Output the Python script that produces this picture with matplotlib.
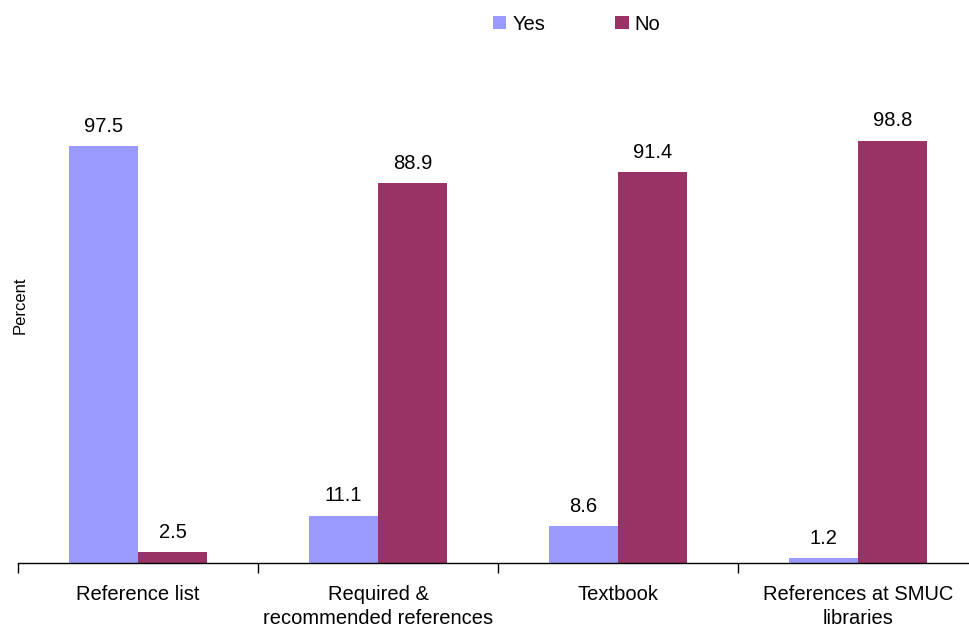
import numpy as np
import matplotlib.pyplot as plt

plt.rcParams['font.family'] = ['Liberation Sans', 'DejaVu Sans']

categories = ["Reference list", "Required &\nrecommended references", "Textbook",
              "References at SMUC\nlibraries"]
yes_vals = [97.5, 11.1, 8.6, 1.2]
no_vals = [2.5, 88.9, 91.4, 98.8]

W, H = 969, 626
fig = plt.figure(figsize=(W / 100, H / 100), dpi=100)
ax = fig.add_axes([18 / W, 63 / H, 960 / W, 513 / H])

x = np.arange(len(categories))
bw = 0.2875
b1 = ax.bar(x - bw / 2, yes_vals, bw, color='#9999FF', label='Yes')
b2 = ax.bar(x + bw / 2, no_vals, bw, color='#993366', label='No')

# value labels above each bar
for bars, vals in ((b1, yes_vals), (b2, no_vals)):
    for b, v in zip(bars, vals):
        ax.text(b.get_x() + b.get_width() / 2, v + 2.4, f"{v:.1f}",
                ha='center', va='bottom', fontsize=14.5)

ax.set_xlim(-0.5, 3.5)
ax.set_ylim(0, 120)
ax.set_xticks(x)
ax.set_xticklabels(categories, fontsize=14.5, linespacing=1.3)
ax.tick_params(axis='x', which='major', length=0, pad=16)
ax.set_xticks(np.arange(-0.5, 4, 1), minor=True)
ax.tick_params(axis='x', which='minor', length=7, width=1, direction='out')
ax.set_yticks([])
for s in ('top', 'right', 'left'):
    ax.spines[s].set_visible(False)
ax.spines['bottom'].set_linewidth(1)

fig.text(20 / W, 1 - 305 / H, "Percent", rotation=90, ha='center', va='center', fontsize=12)

fig.legend(loc='center left', bbox_to_anchor=(493 / W, 1 - 24 / H), ncol=2, frameon=False,
           fontsize=14.5, handlelength=0.65, handleheight=0.65, handletextpad=0.3,
           columnspacing=3.5, borderaxespad=0, borderpad=0)

fig.savefig("out.png", dpi=100)
